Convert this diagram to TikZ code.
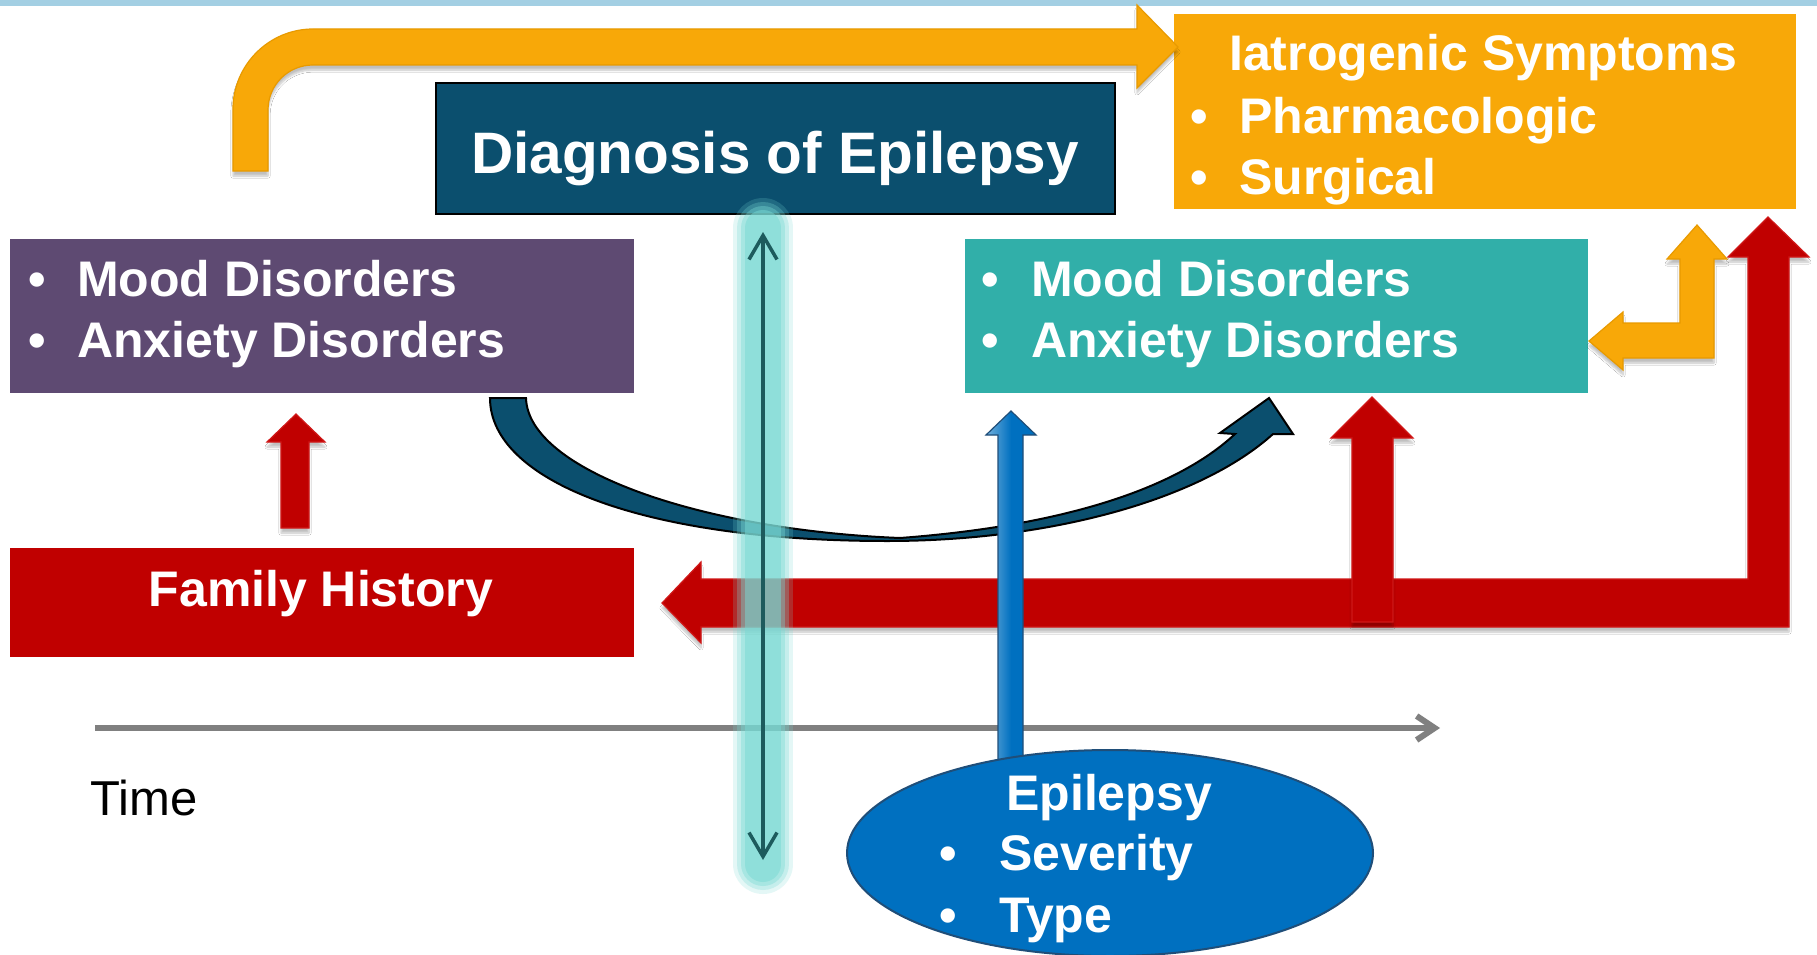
\documentclass[tikz,border=0pt]{standalone}
\usepackage{fontspec}
\setmainfont{Liberation Sans}
\usetikzlibrary{arrows.meta,shapes.geometric,shadows.blur}
\definecolor{topbar}{HTML}{A3CFE3}
\definecolor{orng}{HTML}{F8A808}
\definecolor{orngd}{HTML}{E89A00}
\definecolor{diag}{HTML}{0B4F6E}
\definecolor{purp}{HTML}{5E4A72}
\definecolor{tealc}{HTML}{31AFA9}
\definecolor{redc}{HTML}{C00000}
\definecolor{redd}{HTML}{D01818}
\definecolor{bluec}{HTML}{0070C0}
\definecolor{blued}{HTML}{1F4E79}
\definecolor{glowc}{HTML}{78D9D3}
\definecolor{linec}{HTML}{1D5B5D}
\definecolor{axisc}{HTML}{808080}
\begin{document}
\begin{tikzpicture}[x=1pt,y=-1pt,
  box/.style={rectangle,inner sep=0pt,outer sep=0pt},
  wtxt/.style={text=white,inner sep=0pt,anchor=base west,font=\fontsize{50}{60}\selectfont\bfseries},
  bul/.style={text=white,inner sep=0pt,anchor=base,font=\fontsize{50}{60}\selectfont\bfseries},
  shd/.style={blur shadow={shadow xshift=0pt,shadow yshift=-5pt,shadow blur steps=6,shadow opacity=25}},
  redarrow/.style={fill=redc,draw=redd,line width=1.2pt,line join=miter},
  orarrow/.style={fill=orng,draw=orngd,line width=1.2pt,line join=miter},
]
\useasboundingbox (0,0) rectangle (1817,955);
\fill[white] (0,0) rectangle (1817,955);
% top bar
\fill[topbar] (0,0) rectangle (1817,6);

% boxes
\node[box,fill=diag,draw=black,line width=1.5pt,minimum width=679pt,minimum height=131pt] (diagbox) at (775.5,148.5) {};
\node[box,fill=orng,minimum width=622pt,minimum height=195pt] (iatro) at (1485,111.5) {};
\node[box,fill=purp,minimum width=624pt,minimum height=154pt] (moodL) at (322,316) {};
\node[box,fill=tealc,minimum width=623pt,minimum height=154pt] (moodR) at (1276.5,316) {};
\node[box,fill=redc,minimum width=624pt,minimum height=109pt] (family) at (322,602.5) {};

% orange top bent arrow
\path[orarrow,shd] (233,171) -- (233,109) .. controls (233,65) and (269,29) .. (313,29) -- (1137,29) -- (1137,5) -- (1178,47) -- (1137,88) -- (1137,65) -- (313,65) .. controls (288,65) and (268,85) .. (268,110) -- (268,171) -- cycle;

% small orange left-up arrow
\path[orarrow,shd] (1589,341) -- (1623,312) -- (1623,323) -- (1680,323) -- (1680,259) -- (1667,259) -- (1697,225) -- (1727,259) -- (1714,259) -- (1714,358) -- (1623,358) -- (1623,370) -- cycle;

% small red arrow family -> mood
\path[redarrow,shd] (281,528) -- (281,442) -- (267,442) -- (296,414) -- (325,442) -- (309,442) -- (309,528) -- cycle;

% big red L arrow
\path[redarrow,shd] (662,603) -- (701,562) -- (701,579) -- (1748,579) -- (1748,257) -- (1728,257) -- (1768,217) -- (1809,257) -- (1789,257) -- (1789,627) -- (701,627) -- (701,643) -- cycle;

% red up arrow to right mood box
\path[redarrow,shd] (1352,622) -- (1352,438) -- (1331,438) -- (1372,397) -- (1413,438) -- (1393,438) -- (1393,622) -- cycle;

% time axis
\coordinate (ax0) at (95,728);
\coordinate (ax1) at (1440,728);
\draw[axisc,line width=6pt,-{Straight Barb[length=18pt,width=24pt]}] (ax0) -- (ax1);
\node[inner sep=0pt,anchor=base west,font=\fontsize{49}{58}\selectfont] (time) at (90,815) {Time};

% curved arrow from left mood to right mood
\path[fill=diag,draw=black,line width=2pt,line join=miter]
  (490,398) .. controls (490,480) and (640,541) .. (887,541)
  .. controls (1050,541) and (1200,500) .. (1273,434)
  -- (1293,434) -- (1269,398) -- (1220,433) -- (1235,434)
  .. controls (1175,490) and (1060,526) .. (900,538)
  .. controls (700,530) and (528,470) .. (526,398) -- cycle;

% glowing double arrow
\coordinate (g0) at (763,232);
\coordinate (g1) at (763,860);
\foreach \w/\o in {60/0.2,52/0.28,44/0.38,36/0.5}{
  \draw[glowc,line width=\w pt,line cap=round,opacity=\o] (763,228) -- (763,864);
}
\draw[linec,line width=3.5pt,{Straight Barb[length=24pt,width=28pt]}-{Straight Barb[length=24pt,width=28pt]}] (g0) -- (g1);

% blue arrow from epilepsy ellipse up
\path[left color=bluec!55!white,right color=bluec,middle color=bluec,draw=blued,line width=1.2pt,line join=miter]
  (998,765) -- (998,435) -- (986,435) -- (1011,411) -- (1036,435) -- (1023,435) -- (1023,765) -- cycle;

% ellipse
\node[ellipse,fill=bluec,draw=blued,line width=2pt,minimum width=526pt,minimum height=206pt,inner sep=0pt] (epi) at (1110,853) {};

% texts
\node[text=white,inner sep=0pt,anchor=base,font=\fontsize{58.5}{70}\selectfont\bfseries] (diagtxt) at (775,173) {Diagnosis of Epilepsy};

\node[wtxt] (iat1) at (1229,71) {Iatrogenic Symptoms};
\node[bul] (iatb1) at (1199,133) {•};
\node[wtxt] (iat2) at (1239,133) {Pharmacologic};
\node[bul] (iatb2) at (1199,194) {•};
\node[wtxt] (iat3) at (1239,194) {Surgical};

\node[bul] (mlb1) at (37,296) {•};
\node[wtxt] (ml1) at (77,296) {Mood Disorders};
\node[bul] (mlb2) at (37,357) {•};
\node[wtxt] (ml2) at (77,357) {Anxiety Disorders};

\node[bul] (mrb1) at (990,296) {•};
\node[wtxt] (mr1) at (1031,296) {Mood Disorders};
\node[bul] (mrb2) at (990,357) {•};
\node[wtxt] (mr2) at (1031,357) {Anxiety Disorders};

\node[bul] (famtxt) at (321,606) {Family History};

\node[wtxt] (ep1) at (1006,810) {Epilepsy};
\node[bul] (epb1) at (948,870) {•};
\node[wtxt] (ep2) at (999,870) {Severity};
\node[bul] (epb2) at (948,932) {•};
\node[wtxt] (ep3) at (999,932) {Type};
\end{tikzpicture}
\end{document}
